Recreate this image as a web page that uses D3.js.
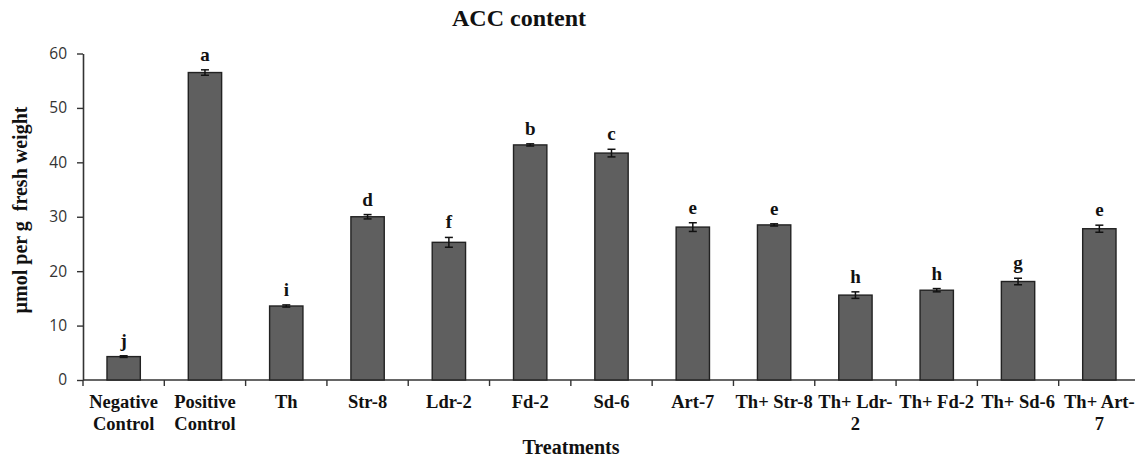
<!DOCTYPE html>
<html><head><meta charset="utf-8">
<script src="https://cdn.jsdelivr.net/npm/d3@7"></script>
<style>body{margin:0;background:#fff}svg{display:block}</style>
</head><body>
<svg id="c" width="1135" height="458"></svg>
<script>
const categories = ["Negative\nControl","Positive\nControl","Th","Str-8","Ldr-2","Fd-2","Sd-6","Art-7","Th+ Str-8","Th+ Ldr-\n2","Th+ Fd-2","Th+ Sd-6","Th+ Art-\n7"];
const values = [4.3, 56.5, 13.6, 30.0, 25.3, 43.2, 41.7, 28.1, 28.5, 15.6, 16.5, 18.1, 27.8];
const errors = [0.15, 0.5, 0.2, 0.4, 0.9, 0.2, 0.7, 0.8, 0.2, 0.6, 0.3, 0.6, 0.65];
const letters = ["j","a","i","d","f","b","c","e","e","h","h","g","e"];
const yTicks = [0,10,20,30,40,50,60];

const svg = d3.select("#c");
const x = d3.scaleBand().domain(categories).range([83, 1140]).paddingInner(0.59).paddingOuter(0.295);
const y = d3.scaleLinear().domain([0,60]).range([380, 53.5]);
const serif = "Liberation Serif, Times New Roman, serif";

// y axis
const yAxis = svg.append("g").attr("transform","translate(83,0)")
  .call(d3.axisLeft(y).tickValues(yTicks).tickSize(6).tickSizeOuter(0));
yAxis.select(".domain").attr("stroke","#333").attr("stroke-width",1.6);
yAxis.selectAll(".tick line").attr("stroke","#333").attr("stroke-width",1.4);
yAxis.selectAll(".tick text").attr("font-family","Open Sans, sans-serif").attr("font-size",15.5).attr("fill","#333").attr("x",-16);

// x axis line and ticks at band boundaries
svg.append("line").attr("x1",83).attr("x2",1140).attr("y1",y(0)).attr("y2",y(0)).attr("stroke","#333").attr("stroke-width",1.6);
const step = x.step();
svg.selectAll(".xt").data(categories).join("line").attr("class","xt")
  .attr("x1", d => x(d) - (step - x.bandwidth())/2).attr("x2", d => x(d) - (step - x.bandwidth())/2)
  .attr("y1", y(0)).attr("y2", y(0)+6).attr("stroke","#333").attr("stroke-width",1.4);

// bars
svg.selectAll(".bar").data(categories).join("rect").attr("class","bar")
  .attr("x", d => x(d)).attr("width", x.bandwidth())
  .attr("y", (d,i) => y(values[i])).attr("height", (d,i) => y(0) - y(values[i]))
  .attr("fill","#5f5f5f").attr("stroke","#222").attr("stroke-width",1.4);

// error bars
const eg = svg.append("g").attr("stroke","#111").attr("stroke-width",1.5);
categories.forEach((c,i) => {
  const cx = x(c) + x.bandwidth()/2;
  const t = y(values[i]+errors[i]), b = y(values[i]-errors[i]);
  eg.append("line").attr("x1",cx).attr("x2",cx).attr("y1",t).attr("y2",b);
  eg.append("line").attr("x1",cx-4).attr("x2",cx+4).attr("y1",t).attr("y2",t);
  eg.append("line").attr("x1",cx-4).attr("x2",cx+4).attr("y1",b).attr("y2",b);
});

// significance letters
svg.selectAll(".lt").data(categories).join("text").attr("class","lt")
  .attr("x", d => x(d) + x.bandwidth()/2)
  .attr("y", (d,i) => y(values[i]+errors[i]) - 9)
  .attr("text-anchor","middle").attr("font-family",serif).attr("font-weight","bold").attr("font-size",19).attr("fill","#111")
  .text((d,i) => letters[i]);

// category labels
categories.forEach(c => {
  const lines = c.split("\n");
  const t = svg.append("text").attr("text-anchor","middle").attr("font-family",serif)
    .attr("font-weight","bold").attr("font-size",18.5).attr("fill","#111");
  lines.forEach((l,j) => t.append("tspan").attr("x", x(c)+x.bandwidth()/2).attr("y", 408 + j*22).text(l));
});

// titles
svg.append("text").attr("x",519).attr("y",26).attr("text-anchor","middle").attr("font-family",serif)
  .attr("font-weight","bold").attr("font-size",24).attr("fill","#111").text("ACC content");
svg.append("text").attr("x",571).attr("y",454).attr("text-anchor","middle").attr("font-family",serif)
  .attr("font-weight","bold").attr("font-size",20).attr("fill","#111").text("Treatments");
svg.append("text").attr("transform","translate(27,210) rotate(-90)").attr("text-anchor","middle").attr("font-family",serif)
  .attr("font-weight","bold").attr("font-size",20).attr("fill","#111").attr("xml:space","preserve").text("µmol per g  fresh weight");
</script>
</body></html>
